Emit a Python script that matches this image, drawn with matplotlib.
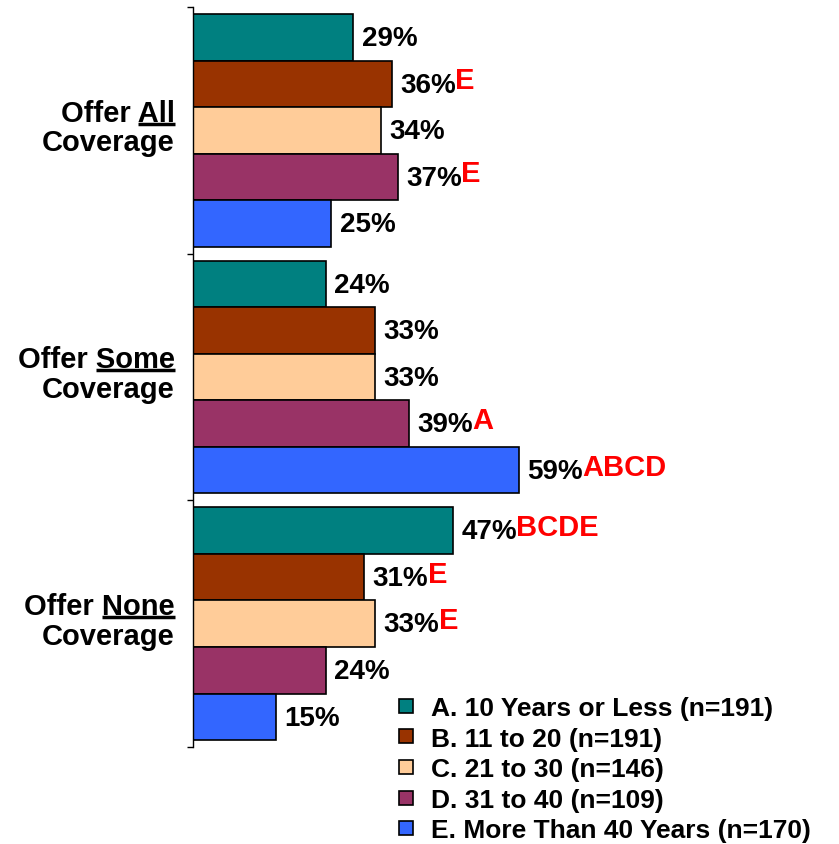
import numpy as np
import matplotlib.pyplot as plt
from matplotlib.lines import Line2D

plt.rcParams['font.family'] = ['Liberation Sans', 'DejaVu Sans']
plt.rcParams['font.weight'] = 'bold'

# data
group_words = ['All', 'Some', 'None']
series = ['A. 10 Years or Less (n=191)',
          'B. 11 to 20 (n=191)',
          'C. 21 to 30 (n=146)',
          'D. 31 to 40 (n=109)',
          'E. More Than 40 Years (n=170)']
colors = ['#008080', '#993300', '#FFCC99', '#993366', '#3366FF']
# rows = groups, cols = series A..E
values = np.array([[29, 36, 34, 37, 25],
                   [24, 33, 33, 39, 59],
                   [47, 31, 33, 24, 15]])
# significance letters
sig = [['', 'E', '', 'E', ''],
       ['', '', '', 'A', 'ABCD'],
       ['BCDE', 'E', 'E', '', '']]

W, H = 839, 845
fig = plt.figure(figsize=(W / 100, H / 100), dpi=100)
ax = fig.add_axes([193 / W, 1 - 748 / H, 553 / W, 740 / H])

bar_h = 0.1887
pad = 0.0285
n_groups = len(group_words)
for j in range(len(series)):
    y = np.arange(n_groups) + pad + (j + 0.5) * bar_h
    ax.barh(y, values[:, j], height=bar_h, color=colors[j],
            edgecolor='black', linewidth=1.2)
    for g in range(n_groups):
        t = ax.annotate(f'{values[g, j]}%', xy=(values[g, j], y[g]),
                        xytext=(6, -0.5), textcoords='offset points',
                        ha='left', va='center', fontsize=20)
        if sig[g][j]:
            ax.annotate(sig[g][j], xy=(1, 0.5), xycoords=t,
                        xytext=(-0.5, 3), textcoords='offset points',
                        ha='left', va='center', color='red', fontsize=21)

ax.set_xlim(0, 100)
ax.set_ylim(n_groups, 0)
for s in ['top', 'right', 'bottom']:
    ax.spines[s].set_visible(False)
ax.spines['left'].set_linewidth(1)
ax.set_xticks([])
ax.set_yticks(np.arange(n_groups + 1))
ax.set_yticklabels([])
ax.tick_params(axis='y', direction='out', length=4, width=1)

# group labels, with the key word underlined
fig.canvas.draw()
renderer = fig.canvas.get_renderer()
for g, word in enumerate(group_words):
    gc = g + 0.5
    kw = dict(xy=(0, gc), textcoords='offset points', ha='right',
              va='baseline', fontsize=21, annotation_clip=False)
    ax.annotate('Offer ' + word, xytext=(-13, 7), **kw)
    ax.annotate('Coverage', xytext=(-13, -14.5), **kw)
    tmp = ax.annotate(word, xytext=(-13, 7), **kw)
    bb = tmp.get_window_extent(renderer)
    tmp.remove()
    base = ax.transData.transform((0, gc))[1] + 7 * 100 / 72
    yl = (base - 3) / H
    fig.add_artist(Line2D([bb.x0 / W, bb.x1 / W], [yl, yl], color='black',
                          linewidth=2.5, solid_capstyle='butt'))

handles = [Line2D([], [], marker='s', linestyle='none', markersize=9.5,
                  markerfacecolor=c, markeredgecolor='black',
                  markeredgewidth=1.2) for c in colors]
fig.legend(handles, series, loc='upper left',
           bbox_to_anchor=(395 / W, 1 - 697 / H), frameon=False,
           fontsize=19, handlelength=0.8, handletextpad=0.55,
           labelspacing=0.25, borderpad=0, borderaxespad=0)

fig.savefig('out.png', dpi=100)
